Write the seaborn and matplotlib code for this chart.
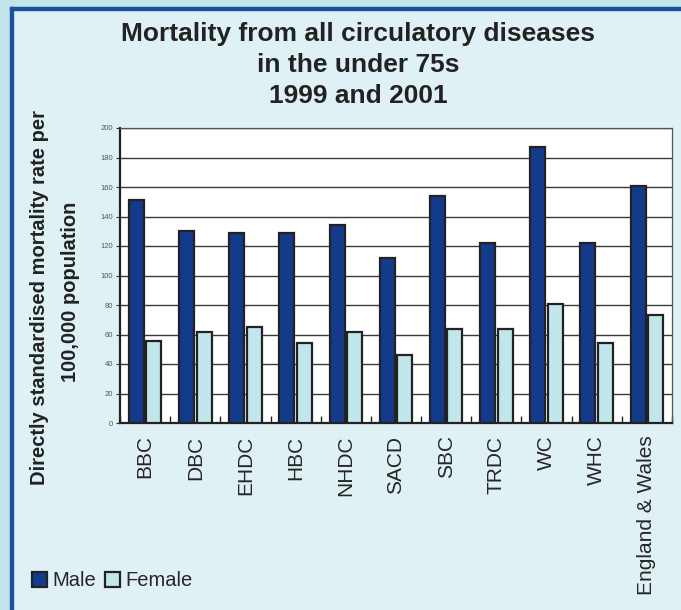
import numpy as np
import pandas as pd
import seaborn as sns
import matplotlib
matplotlib.use("Agg")
import matplotlib.pyplot as plt
from matplotlib.patches import Rectangle
from matplotlib.ticker import MultipleLocator

areas = ["BBC", "DBC", "EHDC", "HBC", "NHDC", "SACD", "SBC", "TRDC", "WC", "WHC",
         "England & Wales"]
male = [151, 130, 129, 129, 134, 112, 154, 122, 187, 122, 161]
female = [55.5, 61.5, 65, 54.5, 62, 46, 64, 64, 80.5, 54.5, 73.5]

df = pd.DataFrame({"area": areas * 2,
                   "sex": ["Male"] * len(areas) + ["Female"] * len(areas),
                   "rate": male + female})

bg_inner = "#dff1f4"
bg_outer = "#c2e4ea"
navy = "#143a8c"
pale = "#c1e6ec"

sns.set_style("white")
plt.rcParams["font.family"] = ["Liberation Sans", "DejaVu Sans"]

fig = plt.figure(figsize=(6.81, 6.10), dpi=100, facecolor=bg_inner)
# outer band and dark blue frame line
fig.patches.append(Rectangle((0, 0), 10 / 681, 1, transform=fig.transFigure,
                             color=bg_outer, zorder=0))
fig.patches.append(Rectangle((0, 1 - 7 / 610), 1, 7 / 610, transform=fig.transFigure,
                             color=bg_outer, zorder=0))
fig.patches.append(Rectangle((10 / 681, 0), 3 / 681, 1 - 7 / 610, transform=fig.transFigure,
                             color="#1a52a0", zorder=1))
fig.patches.append(Rectangle((10 / 681, 1 - 10 / 610), 1, 3 / 610, transform=fig.transFigure,
                             color="#1a52a0", zorder=1))

ax = fig.add_axes([120 / 681, 1 - 423 / 610, 552 / 681, 295 / 610])
sns.barplot(data=df, x="area", y="rate", hue="sex", palette=[navy, pale],
            saturation=1, width=0.7, gap=0.15, edgecolor="#222222", linewidth=1.6,
            legend=False, ax=ax, zorder=3)

ax.set_facecolor("white")
ax.set_ylim(0, 200)
ax.set_xlim(-0.5, len(areas) - 0.5)
ax.yaxis.set_major_locator(MultipleLocator(20))
ax.grid(axis="y", color="#3a3a3a", linewidth=1.0, zorder=0)
ax.set_axisbelow(True)
ax.set_xlabel("")
ax.set_ylabel("")

ax.tick_params(axis="y", labelsize=5.5, labelcolor="#555555", length=3, width=0.8,
               color="#333333", pad=2, left=True)
ax.tick_params(axis="x", labelsize=15, rotation=90, length=0, pad=9)
ax.set_xticks(np.arange(-0.5, len(areas)), minor=True)
ax.tick_params(axis="x", which="minor", direction="in", length=5, width=1, bottom=True)

for side in ["left", "bottom"]:
    ax.spines[side].set_color("#222222")
    ax.spines[side].set_linewidth(1.6)
for side in ["top", "right"]:
    ax.spines[side].set_color("#555555")
    ax.spines[side].set_linewidth(0.9)

fig.text(358 / 681, 1 - 22 / 610, "Mortality from all circulatory diseases\nin the under 75s\n1999 and 2001",
         ha="center", va="top", fontsize=19, fontweight="bold", color="#222222",
         linespacing=1.38, transform=fig.transFigure)
fig.text(40 / 681, 1 - 298 / 610, "Directly standardised mortality rate per",
         ha="center", va="center", rotation=90, fontsize=14.5, fontweight="bold", color="#222222")
fig.text(70 / 681, 1 - 292 / 610, "100,000 population",
         ha="center", va="center", rotation=90, fontsize=14.5, fontweight="bold", color="#222222")

handles = [Rectangle((0, 0), 1, 1, facecolor=navy, edgecolor="#222222", linewidth=1.6),
           Rectangle((0, 0), 1, 1, facecolor=pale, edgecolor="#222222", linewidth=1.6)]
fig.legend(handles, ["Male", "Female"], loc="center left",
           bbox_to_anchor=(14 / 681, 1 - 581 / 610), ncol=2, frameon=False,
           fontsize=14.5, handlelength=0.75, handleheight=0.8, handletextpad=0.25,
           columnspacing=0.45)

fig.savefig("out.png", dpi=100, facecolor=bg_inner)
